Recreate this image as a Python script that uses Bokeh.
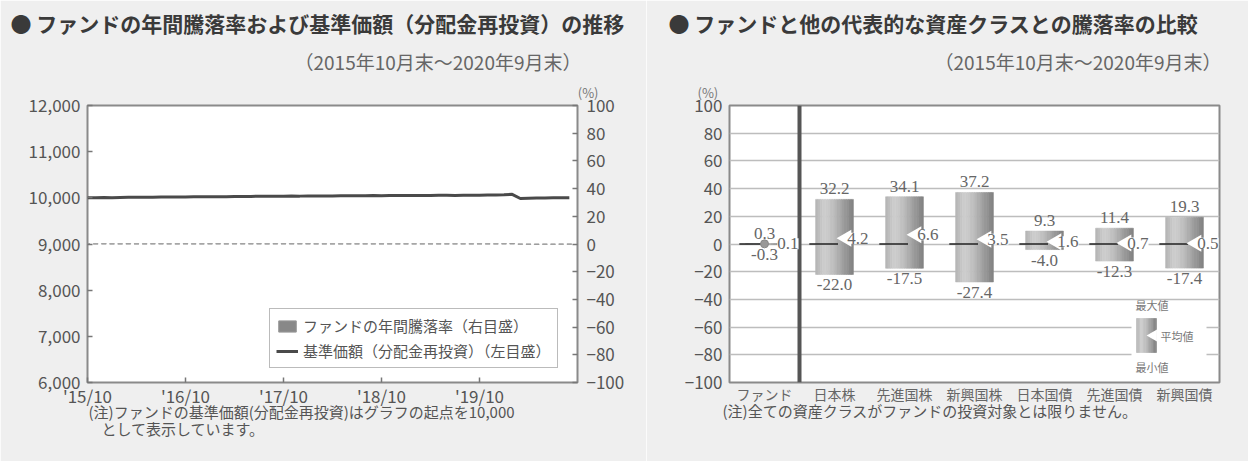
import numpy as np
from bokeh.plotting import figure
from bokeh.models import (Range1d, LinearAxis, FixedTicker, Label, LabelSet, Title,
                          ColumnDataSource, Legend, LegendItem, Span,
                          NumeralTickFormatter)
from bokeh.layouts import row
from bokeh.embed import file_html
from bokeh.resources import INLINE

FONT = "Noto Sans CJK JP"
BG = "#efefef"

# ---------------- data: left chart ----------------
month_index = list(range(60))  # 2015/10 ... 2020/09
nav_values = [10000, 10003, 10006, 10004, 10008, 10010, 10012, 10013, 10015, 10018, 10016, 10019,
              10020, 10022, 10021, 10024, 10026, 10025, 10028, 10030, 10031, 10033, 10032, 10035,
              10036, 10038, 10037, 10040, 10041, 10039, 10042, 10044, 10043, 10045, 10046, 10048,
              10047, 10049, 10050, 10048, 10051, 10053, 10052, 10054, 10055, 10053, 10056, 10058,
              10057, 10060, 10062, 10066, 10075, 9985, 9992, 9996, 9998, 10000, 10002, 10004]
annual_returns = [0.1, 0.1, 0.2, 0.1, 0.1, 0.2, 0.1, 0.1, 0.2, 0.2, 0.1, 0.1,
                  0.2, 0.1, 0.1, 0.2, 0.2, 0.1, 0.2, 0.2, 0.2, 0.2, 0.1, 0.2,
                  0.2, 0.2, 0.2, 0.2, 0.1, 0.1, 0.1, 0.1, 0.1, 0.1, 0.1, 0.1,
                  0.1, 0.1, 0.1, 0.1, 0.1, 0.1, 0.1, 0.1, 0.1, 0.1, 0.1, 0.1,
                  0.1, 0.1, 0.1, 0.2, 0.3, -0.1, -0.2, -0.3, -0.2, -0.2, -0.1, -0.1]
xtick_pos = [0, 12, 24, 36, 48]
xtick_labels = ["'15/10", "'16/10", "'17/10", "'18/10", "'19/10"]
nav_ticks = [6000, 7000, 8000, 9000, 10000, 11000, 12000]
pct_ticks = [-100, -80, -60, -40, -20, 0, 20, 40, 60, 80, 100]

# ---------------- data: right chart ----------------
categories = ["ファンド", "日本株", "先進国株", "新興国株", "日本国債", "先進国債", "新興国債"]
max_ret = [0.3, 32.2, 34.1, 37.2, 9.3, 11.4, 19.3]
avg_ret = [0.1, 4.2, 6.6, 3.5, 1.6, 0.7, 0.5]
min_ret = [-0.3, -22.0, -17.5, -27.4, -4.0, -12.3, -17.4]

W1, W2, H = 646, 602, 461
FT, FB = 105, 382          # frame top / bottom (px)
L0, L1 = 87, 577           # left frame x
R0, R1 = 729, 1219         # right frame x


def style_axis(ax, size="17px"):
    ax.axis_line_color = None
    ax.minor_tick_line_color = None
    ax.major_tick_line_color = "#777"
    ax.major_tick_line_width = 1.5
    ax.major_tick_in = 5
    ax.major_tick_out = 0
    ax.major_label_text_font = FONT
    ax.major_label_text_font_size = size
    ax.major_label_text_color = "#555"


def add_title(p, text, side, size, align, offset, standoff, color="#555",
              weight="normal"):
    p.add_layout(Title(text=text, align=align, offset=offset, standoff=standoff,
                       text_font=FONT, text_font_size=size, text_color=color,
                       text_font_style=weight, vertical_align="middle"), side)


def frame_style(p):
    p.background_fill_color = "white"
    p.border_fill_color = BG
    p.outline_line_color = "#8a8a8a"
    p.outline_line_width = 2
    p.title.visible = False


# ================= left figure =================
p1 = figure(width=W1, height=H, x_range=Range1d(0, 60), y_range=Range1d(6000, 12000),
            output_backend="svg", toolbar_location=None,
            min_border_left=L0, min_border_right=W1 - L1, min_border_top=FT,
            min_border_bottom=H - FB)
frame_style(p1)
p1.grid.visible = False
p1.extra_y_ranges = {"pct": Range1d(-100, 100)}
ra = LinearAxis(y_range_name="pct", ticker=FixedTicker(ticks=pct_ticks))
p1.add_layout(ra, "right")

ly = p1.yaxis[0]
ly.ticker = FixedTicker(ticks=nav_ticks)
ly.formatter = NumeralTickFormatter(format="0,0")
style_axis(ly)
ly.major_label_standoff = 7
style_axis(ra)
ra.major_label_standoff = 9
bx = p1.xaxis[0]
bx.ticker = FixedTicker(ticks=xtick_pos)
bx.major_label_overrides = {k: v for k, v in zip(xtick_pos, xtick_labels)}
style_axis(bx)
bx.major_label_standoff = 0

bars = p1.vbar(x=month_index, top=annual_returns, bottom=0, width=0.6,
               y_range_name="pct", fill_color="#888", line_color="#9a9a9a", line_width=1)
line = p1.line(x=month_index, y=nav_values, line_color="#4a4a4a", line_width=3)

legend = Legend(items=[LegendItem(label="ファンドの年間騰落率（右目盛）", renderers=[bars]),
                       LegendItem(label="基準価額（分配金再投資）（左目盛）", renderers=[line])],
                location=(182, 14), label_text_font=FONT, label_text_font_size="15px",
                label_text_color="#555", border_line_color="#777", border_line_width=1.5,
                background_fill_color="white", background_fill_alpha=1.0,
                padding=6, spacing=4, glyph_width=22, glyph_height=14,
                label_standoff=5, margin=0)
p1.add_layout(legend)

# texts above (nearest the frame first) and below the left frame
add_title(p1, "(%)", "above", "13px", "right", L1 - 598, 6, color="#777")
add_title(p1, "（2015年10月末〜2020年9月末）", "above", "19px", "right", L1 - 581, 6, color="#666")
add_title(p1, "● ファンドの年間騰落率および基準価額（分配金再投資）の推移", "above", "21px",
          "left", 10 - L0, 9, color="#3a3a3a", weight="bold")
add_title(p1, "(注)ファンドの基準価額(分配金再投資)はグラフの起点を10,000", "below", "15px",
          "left", 88 - L0, -22)
add_title(p1, "として表示しています。", "below", "15px", "left", 101 - L0, 11)

# ================= right figure =================
p2 = figure(width=W2, height=H, x_range=Range1d(-0.5, 6.5), y_range=Range1d(-100, 100),
            output_backend="svg", toolbar_location=None,
            min_border_left=R0 - W1, min_border_right=W1 + W2 - R1,
            min_border_top=FT, min_border_bottom=H - FB)
frame_style(p2)
p2.xgrid.visible = False
p2.ygrid.ticker = FixedTicker(ticks=pct_ticks)
p2.ygrid.grid_line_color = "#bdbdbd"
p2.ygrid.grid_line_width = 1.5

yax = p2.yaxis[0]
yax.ticker = FixedTicker(ticks=pct_ticks)
style_axis(yax)
yax.major_tick_in = 0
yax.major_label_standoff = 7
xax = p2.xaxis[0]
xax.ticker = FixedTicker(ticks=list(range(len(categories))))
xax.major_label_overrides = {i: c for i, c in enumerate(categories)}
style_axis(xax, size="14px")
xax.major_tick_in = 0
xax.major_label_standoff = 1
xax.major_label_text_color = "#666"

sep = Span(location=0.5, dimension="height", line_color="#555", line_width=4, level="underlay")
p2.add_layout(sep)

# gradient bars (min -> max), drawn as vertical strips
anchors = [(0.0, 0xb4), (0.25, 0xcf), (0.5, 0xbb), (0.75, 0x9c), (1.0, 0x80)]
NS = 16


def shade(t):
    for (t0, c0), (t1, c1) in zip(anchors[:-1], anchors[1:]):
        if t <= t1:
            g = int(round(c0 + (c1 - c0) * (t - t0) / (t1 - t0)))
            return "#%02x%02x%02x" % (g, g, g)
    return "#808080"


grad = [shade((k + 0.5) / NS) for k in range(NS)]
BW = 0.54
idx = list(range(len(categories)))
sl, sr, sb, st, sc = [], [], [], [], []
for i in idx:
    for k, c in enumerate(grad):
        sl.append(i - BW / 2 + k * BW / NS)
        sr.append(i - BW / 2 + (k + 1) * BW / NS)
        sb.append(min_ret[i])
        st.append(max_ret[i])
        sc.append(c)
p2.quad(left=sl, right=sr, bottom=sb, top=st, fill_color=sc, line_color=sc, line_width=0.6)

# zero connector lines
p2.segment(x0=[i - 0.36 for i in idx], y0=[0] * len(idx), x1=[i + 0.05 for i in idx],
           y1=[0] * len(idx), line_color="#222", line_width=1.5)

# average markers
p2.scatter(x=[i + 0.17 for i in idx[1:]], y=avg_ret[1:], marker="triangle", size=17,
           angle=np.pi / 2, fill_color="white", line_color=None)
p2.scatter(x=[idx[0]], y=[avg_ret[0]], size=8, fill_color="#999", line_color="#888")

src = ColumnDataSource(dict(
    x=idx, xa=[i + 0.14 for i in idx], mx=max_ret, av=avg_ret, mn=min_ret,
    mxs=["%.1f" % v for v in max_ret], avs=["%.1f" % v for v in avg_ret],
    mns=["%.1f" % v for v in min_ret]))
common = dict(source=src, text_font=FONT, text_font_size="17px", text_color="#666")
p2.add_layout(LabelSet(x="x", y="mx", text="mxs", y_offset=5, text_align="center",
                       text_baseline="bottom", **common))
p2.add_layout(LabelSet(x="x", y="mn", text="mns", y_offset=-5, text_align="center",
                       text_baseline="top", **common))
p2.add_layout(LabelSet(x="xa", y="av", text="avs", x_offset=3, text_align="left",
                       text_baseline="middle", background_fill_color="white",
                       background_fill_alpha=1.0, **common))


# key (最大値 / 平均値 / 最小値)
def r_xy(px, py):
    return (-0.5 + (px - R0) / 70, -100 + (FB - py) / (FB - FT) * 200)


kx0, ky0 = r_xy(1131, 302)
kx1, ky1 = r_xy(1206, 378)
p2.quad(left=[kx0], right=[kx1], top=[ky0], bottom=[ky1], fill_color="white", line_color=None)
bl, bt = r_xy(1136, 318)
br, bb = r_xy(1156, 352)
kl = [bl + k * (br - bl) / NS for k in range(NS)]
kr = [bl + (k + 1) * (br - bl) / NS for k in range(NS)]
p2.quad(left=kl, right=kr, top=[bt] * NS, bottom=[bb] * NS,
        fill_color=grad, line_color=grad, line_width=0.6)
tx, ty = r_xy(1153, 335)
p2.scatter(x=[tx], y=[ty], marker="triangle", size=12, angle=np.pi / 2,
           fill_color="white", line_color=None)
for (px, py), t in [((1135, 304), "最大値"), ((1160, 335), "平均値"), ((1135, 366), "最小値")]:
    x, y = r_xy(px, py)
    p2.add_layout(Label(x=x, y=y, text=t, text_font=FONT, text_font_size="11px",
                        text_color="#777", text_baseline="middle"))

add_title(p2, "(%)", "above", "13px", "left", 697 - R0, 6, color="#777")
add_title(p2, "（2015年10月末〜2020年9月末）", "above", "19px", "right", R1 - 1221, 6, color="#666")
add_title(p2, "● ファンドと他の代表的な資産クラスとの騰落率の比較", "above", "21px",
          "left", 668 - R0, 9, color="#3a3a3a", weight="bold")
add_title(p2, "(注)全ての資産クラスがファンドの投資対象とは限りません。", "below", "15px",
          "left", 722 - R0, -16)

layout = row(p1, p2, spacing=0)
open("out.html", "w").write(file_html(layout, INLINE))
